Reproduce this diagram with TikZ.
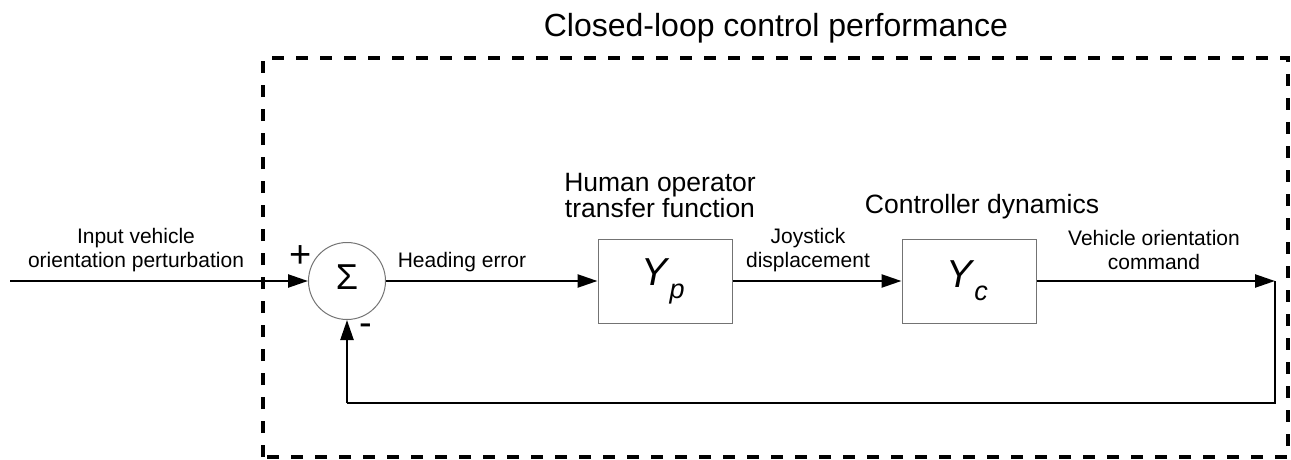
\documentclass[tikz,border=0pt]{standalone}
\usepackage{fontspec}
\setmainfont{Liberation Sans}
\usetikzlibrary{arrows.meta}
\tikzset{
  conn/.style={line width=2.4pt, -{Triangle[length=20pt,width=13pt]}},
  line/.style={line width=2.4pt},
  blockbox/.style={draw=black!55, line width=1pt, minimum width=134pt, minimum height=84pt, inner sep=0pt},
  sumnode/.style={circle, draw=black!55, line width=1pt, minimum size=77pt, inner sep=0pt},
  lbl/.style={font=\fontsize{21}{24}\selectfont, align=center, inner sep=0pt},
  mid/.style={font=\fontsize{26.5}{26}\selectfont, align=center, inner sep=0pt},
  sign/.style={font=\fontsize{38}{38}\selectfont, inner sep=0pt},
  frame/.style={line width=4pt, dash pattern=on 12pt off 12pt}
}
\begin{document}
\begin{tikzpicture}[x=1pt,y=-1pt]
\useasboundingbox (0,0) rectangle (1291,460);
\draw[frame] (263,457) -- (263,58) -- (1288,58) -- (1288,457) -- cycle;
\node[font=\fontsize{32}{36}\selectfont, inner sep=0pt] (title) at (776,28) {Closed-loop control performance};

\coordinate (in) at (10,281);
\node[sumnode] (sum) at (347,281) {};
\node[font=\fontsize{36}{36}\selectfont, inner sep=0pt] (sig) at (347,277) {Σ};
\node[blockbox] (yp) at (665,281) {};
\node[blockbox] (yc) at (969,281) {};
\node[font=\fontsize{39}{39}\selectfont, inner sep=0pt] (ypl) at (663,281) {\textit{Y}\raisebox{-13pt}{\fontsize{27}{27}\selectfont\textit{p}}};
\node[font=\fontsize{39}{39}\selectfont, inner sep=0pt] (ycl) at (967,281) {\textit{Y}\raisebox{-13pt}{\fontsize{27}{27}\selectfont\textit{c}}};
\coordinate (out) at (1275,281);
\coordinate (br) at (1275,403);
\coordinate (bl) at (347,403);

\draw[conn] (in) -- (sum.west);
\draw[conn] (sum.east) -- (yp.west);
\draw[conn] (yp.east) -- (yc.west);
\draw[conn] (yc.east) -- (out);
\draw[line] (out) -- (br) -- (bl);
\draw[conn] (bl) -- (sum.south);

\node[lbl] (t1) at (136,250) {Input vehicle\\orientation perturbation};
\node[sign] (plus) at (301,257) {+};
\node[sign] (minus) at (366,330) {-};
\node[lbl] (t2) at (462,262) {Heading error};
\node[mid] (t3) at (660,196) {Human operator\\transfer function};
\node[mid] (t4) at (982,207) {Controller dynamics};
\node[lbl] (t5) at (808,250) {Joystick\\displacement};
\node[lbl] (t6) at (1154,250) {Vehicle orientation\\command};
\end{tikzpicture}
\end{document}
